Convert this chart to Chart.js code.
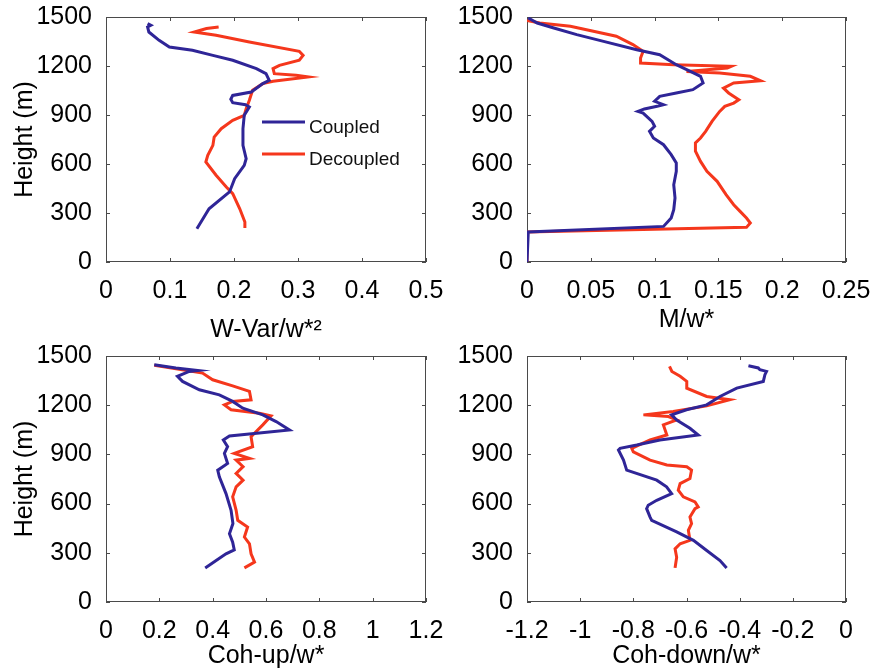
<!DOCTYPE html>
<html><head><meta charset="utf-8">
<script src="https://cdn.jsdelivr.net/npm/chart.js@4.4.0/dist/chart.umd.min.js"></script>
<style>
html,body{margin:0;padding:0;background:#fff;width:873px;height:671px;overflow:hidden;}
.p{position:absolute;}
canvas{display:block;}
</style></head><body>
<div class="p" style="left:0;top:0"><canvas id="c1" width="446" height="345"></canvas></div>
<div class="p" style="left:440px;top:0"><canvas id="c2" width="432" height="345"></canvas></div>
<div class="p" style="left:0;top:339px"><canvas id="c3" width="446" height="332"></canvas></div>
<div class="p" style="left:440px;top:339px"><canvas id="c4" width="432" height="332"></canvas></div>
<script>
// ---------- tick labels ----------
const heightTicks = [0, 300, 600, 900, 1200, 1500];
const heightTickLabels = ['0', '300', '600', '900', '1200', '1500'];
const wvarTicks = [0, 0.1, 0.2, 0.3, 0.4, 0.5];
const wvarTickLabels = ['0', '0.1', '0.2', '0.3', '0.4', '0.5'];
const mfluxTicks = [0, 0.05, 0.1, 0.15, 0.2, 0.25];
const mfluxTickLabels = ['0', '0.05', '0.1', '0.15', '0.2', '0.25'];
const cohUpTicks = [0, 0.2, 0.4, 0.6, 0.8, 1, 1.2];
const cohUpTickLabels = ['0', '0.2', '0.4', '0.6', '0.8', '1', '1.2'];
const cohDownTicks = [-1.2, -1, -0.8, -0.6, -0.4, -0.2, 0];
const cohDownTickLabels = ['-1.2', '-1', '-0.8', '-0.6', '-0.4', '-0.2', '0'];

const seriesNames = ['Coupled', 'Decoupled'];

// ---------- W-Var / w*^2 ----------
const wvarCoupledX = [0.142,0.161,0.193,0.201,0.216,0.219,0.214,0.214,0.216,0.224,0.218,0.198,0.195,0.198,0.227,0.245,0.255,0.250,0.235,0.198,0.167,0.135,0.099,0.083,0.067,0.065,0.070,0.065];
const wvarCoupledH = [204,326,429,510,592,633,714,816,898,949,963,975,996,1020,1041,1092,1112,1153,1184,1235,1265,1296,1316,1357,1408,1439,1449,1459];
const wvarDecoupledX = [0.217,0.217,0.209,0.198,0.188,0.172,0.156,0.159,0.167,0.169,0.180,0.198,0.216,0.219,0.224,0.229,0.245,0.261,0.316,0.297,0.263,0.261,0.271,0.302,0.308,0.302,0.224,0.172,0.138,0.157,0.176];
const wvarDecoupledH = [208,245,326,418,459,531,612,653,714,765,816,867,898,939,990,1051,1092,1106,1133,1143,1153,1184,1204,1235,1265,1290,1347,1388,1408,1429,1439];

// ---------- M / w* ----------
const mfluxCoupledX = [0,0.001,0.107,0.113,0.115,0.116,0.115,0.117,0.117,0.113,0.107,0.099,0.096,0.100,0.098,0.091,0.087,0.092,0.102,0.107,0.100,0.104,0.117,0.130,0.138,0.136,0.128,0.117,0.104,0.086,0.060,0.039,0.021,0.008,0.001];
const mfluxCoupledH = [0,184,218,269,320,392,473,555,606,657,718,759,800,831,861,912,922,937,953,963,984,1014,1035,1055,1096,1137,1167,1208,1269,1300,1351,1392,1433,1463,1494];
const mfluxDecoupledX = [0,0,0.172,0.175,0.172,0.167,0.162,0.156,0.149,0.141,0.136,0.132,0.132,0.136,0.140,0.145,0.151,0.155,0.162,0.166,0.158,0.154,0.162,0.183,0.175,0.151,0.125,0.157,0.160,0.115,0.089,0.089,0.091,0.083,0.070,0.034,0.010,0];
const mfluxDecoupledH = [0,184,212,239,269,310,351,412,494,555,616,678,729,759,800,861,922,953,973,994,1035,1065,1096,1110,1137,1157,1167,1188,1198,1208,1218,1249,1290,1331,1382,1443,1463,1478];

// ---------- Coh-up / w* ----------
const cohUpCoupledX = [0.372,0.413,0.450,0.481,0.475,0.463,0.476,0.469,0.450,0.425,0.419,0.456,0.444,0.456,0.440,0.463,0.688,0.638,0.588,0.513,0.475,0.425,0.350,0.287,0.268,0.312,0.344,0.262,0.181];
const cohUpCoupledH = [208,253,294,318,365,416,478,559,661,763,804,845,906,947,988,1012,1049,1100,1141,1182,1223,1263,1294,1345,1376,1406,1412,1427,1447];
const cohUpDecoupledX = [0.519,0.557,0.544,0.538,0.519,0.531,0.494,0.488,0.475,0.488,0.514,0.488,0.514,0.488,0.538,0.481,0.550,0.544,0.588,0.619,0.575,0.469,0.444,0.475,0.544,0.538,0.475,0.400,0.362,0.181];
const cohUpDecoupledH = [208,243,294,355,396,457,498,559,641,702,743,784,825,865,876,906,947,1008,1080,1135,1151,1172,1202,1223,1233,1284,1318,1355,1396,1443];

// ---------- Coh-down / w* ----------
const cohDownCoupledX = [-0.449,-0.474,-0.524,-0.574,-0.637,-0.731,-0.737,-0.750,-0.744,-0.712,-0.656,-0.675,-0.712,-0.825,-0.837,-0.856,-0.850,-0.787,-0.700,-0.556,-0.587,-0.637,-0.656,-0.600,-0.524,-0.474,-0.411,-0.311,-0.305,-0.299,-0.324,-0.330,-0.367];
const cohDownCoupledH = [208,253,314,376,427,498,518,569,590,620,661,702,743,804,865,927,937,957,988,1018,1059,1110,1141,1172,1202,1253,1304,1345,1386,1406,1416,1427,1441];
const cohDownDecoupledX = [-0.643,-0.637,-0.643,-0.624,-0.587,-0.593,-0.581,-0.587,-0.568,-0.556,-0.568,-0.612,-0.631,-0.624,-0.587,-0.581,-0.599,-0.674,-0.737,-0.800,-0.806,-0.737,-0.674,-0.687,-0.637,-0.668,-0.762,-0.650,-0.524,-0.437,-0.524,-0.599,-0.599,-0.624,-0.655,-0.664];
const cohDownDecoupledH = [208,273,324,355,376,437,478,518,569,580,610,641,682,722,753,804,825,835,865,916,937,988,1018,1080,1110,1131,1141,1161,1196,1233,1253,1304,1345,1376,1406,1437];

// ---------- styling ----------
const BLUE = '#2f2597';
const RED = '#f5371c';
const FONT = "'Liberation Sans', Arial, Helvetica, sans-serif";

const pts = (xs, hs) => xs.map((v, i) => ({x: v, y: hs[i]}));

const framePlugin = {
  id: 'frame',
  beforeDatasetsDraw(chart) {
    const {ctx, chartArea: a, scales} = chart;
    const len = 4;
    ctx.save();
    ctx.strokeStyle = '#4a4a4a';
    ctx.lineWidth = 1;
    ctx.beginPath();
    scales.x.ticks.forEach(t => {
      const px = Math.round(scales.x.getPixelForValue(t.value)) + 0.5;
      ctx.moveTo(px, a.bottom); ctx.lineTo(px, a.bottom - len);
      ctx.moveTo(px, a.top); ctx.lineTo(px, a.top + len);
    });
    scales.y.ticks.forEach(t => {
      const py = Math.round(scales.y.getPixelForValue(t.value)) + 0.5;
      ctx.moveTo(a.left, py); ctx.lineTo(a.left + len, py);
      ctx.moveTo(a.right, py); ctx.lineTo(a.right - len, py);
    });
    ctx.stroke();
    ctx.strokeRect(Math.round(a.left) + 0.5, Math.round(a.top) + 0.5,
                   Math.round(a.right - a.left) - 1, Math.round(a.bottom - a.top) - 1);
    ctx.restore();
  }
};

const legendPlugin = {
  id: 'inLegend',
  afterDatasetsDraw(chart, args, o) {
    if (!o || !o.show) return;
    const ctx = chart.ctx;
    ctx.save();
    chart.data.datasets.forEach((ds, i) => {
      const yy = o.y + i * o.dy;
      ctx.strokeStyle = ds.borderColor;
      ctx.lineWidth = 3;
      ctx.beginPath();
      ctx.moveTo(o.x1, yy); ctx.lineTo(o.x2, yy);
      ctx.stroke();
      ctx.fillStyle = '#111';
      ctx.font = o.size + 'px ' + FONT;
      ctx.textBaseline = 'alphabetic';
      ctx.textAlign = 'left';
      ctx.fillText(ds.label, o.tx, yy + o.textDy);
    });
    ctx.restore();
  }
};

function makePanel(id, c) {
  new Chart(document.getElementById(id), {
    type: 'scatter',
    data: {
      datasets: [
        {label: seriesNames[0], data: pts(c.cx, c.ch), borderColor: BLUE, backgroundColor: BLUE},
        {label: seriesNames[1], data: pts(c.dx, c.dh), borderColor: RED, backgroundColor: RED}
      ].map(d => Object.assign(d, {showLine: true, borderWidth: 3, pointRadius: 0, tension: 0, fill: false}))
    },
    options: {
      responsive: false,
      animation: false,
      devicePixelRatio: 1,
      layout: {padding: {top: 17, right: c.padRight, left: 0, bottom: 0}},
      plugins: {
        legend: {display: false},
        tooltip: {enabled: false},
        inLegend: c.legend || {show: false}
      },
      scales: {
        x: {
          type: 'linear',
          min: c.xTicks[0], max: c.xTicks[c.xTicks.length - 1],
          afterBuildTicks: s => { s.ticks = c.xTicks.map(v => ({value: v})); },
          afterFit: s => { s.height = c.xHeight; s.paddingLeft = 0; s.paddingRight = 0; },
          grid: {display: false},
          border: {display: false},
          ticks: {
            color: '#000', padding: 6, maxRotation: 0, autoSkip: false,
            font: {family: FONT, size: 25},
            callback: (v, i) => c.xLabels[i]
          },
          title: {
            display: true, text: c.xTitle, color: '#000',
            font: {family: FONT, size: 25}, padding: {top: 0, bottom: c.titlePadBottom}
          }
        },
        y: {
          type: 'linear',
          min: 0, max: 1500,
          afterBuildTicks: s => { s.ticks = heightTicks.map(v => ({value: v})); },
          afterFit: s => { s.width = c.yWidth; s.paddingTop = 0; s.paddingBottom = 0; },
          grid: {display: false},
          border: {display: false},
          ticks: {
            color: '#000', padding: 6, autoSkip: false,
            font: {family: FONT, size: 25},
            callback: (v, i) => heightTickLabels[i]
          },
          title: {
            display: c.yTitle, text: 'Height (m)', color: '#000',
            font: {family: FONT, size: 25}, padding: {top: 10, bottom: 0}
          }
        }
      }
    },
    plugins: [framePlugin, legendPlugin]
  });
}

makePanel('c1', {
  cx: wvarCoupledX, ch: wvarCoupledH, dx: wvarDecoupledX, dh: wvarDecoupledH,
  xTicks: wvarTicks, xLabels: wvarTickLabels, xTitle: 'W-Var/w*\u00B2',
  yWidth: 106, xHeight: 83, padRight: 20, titlePadBottom: 0, yTitle: true,
  legend: {show: true, x1: 262, x2: 305, y: 122, dy: 32, tx: 309, textDy: 11, size: 19}
});
makePanel('c2', {
  cx: mfluxCoupledX, ch: mfluxCoupledH, dx: mfluxDecoupledX, dh: mfluxDecoupledH,
  xTicks: mfluxTicks, xLabels: mfluxTickLabels, xTitle: 'M/w*',
  yWidth: 87, xHeight: 83, padRight: 26, titlePadBottom: 10, yTitle: false
});
makePanel('c3', {
  cx: cohUpCoupledX, ch: cohUpCoupledH, dx: cohUpDecoupledX, dh: cohUpDecoupledH,
  xTicks: cohUpTicks, xLabels: cohUpTickLabels, xTitle: 'Coh-up/w*',
  yWidth: 106, xHeight: 69, padRight: 20, titlePadBottom: 0, yTitle: true
});
makePanel('c4', {
  cx: cohDownCoupledX, ch: cohDownCoupledH, dx: cohDownDecoupledX, dh: cohDownDecoupledH,
  xTicks: cohDownTicks, xLabels: cohDownTickLabels, xTitle: 'Coh-down/w*',
  yWidth: 87, xHeight: 69, padRight: 26, titlePadBottom: 0, yTitle: false
});
</script>
</body></html>
